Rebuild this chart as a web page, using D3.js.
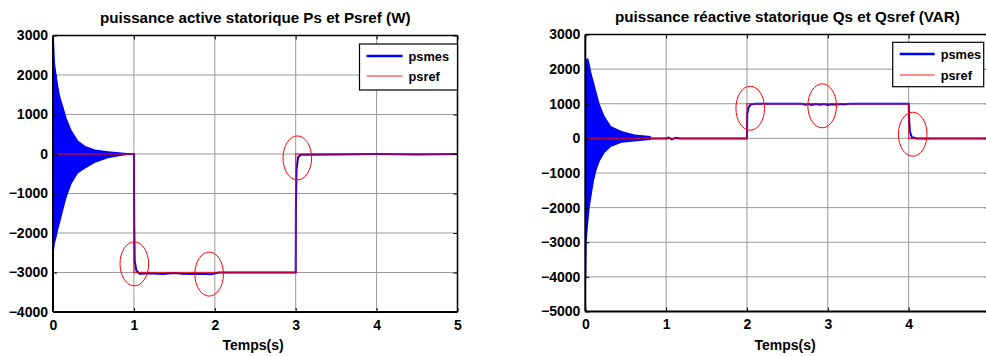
<!DOCTYPE html>
<html>
<head>
<meta charset="utf-8">
<script src="https://cdnjs.cloudflare.com/ajax/libs/d3/7.8.5/d3.min.js"></script>
<style>
    body { margin: 0; background: #fff; }
    svg { display: block; font-family: "Liberation Sans", Arial, sans-serif; font-weight: bold; }
</style>
</head>
<body>
<svg id="chart" width="986" height="356"></svg>
<script>
// ---- data ----
const timeTicks = [0, 1, 2, 3, 4, 5];
const psTicks = [3000, 2000, 1000, 0, -1000, -2000, -3000, -4000];
const qsTicks = [3000, 2000, 1000, 0, -1000, -2000, -3000, -4000, -5000];
const legendLabels = ["psmes", "psref"];

// active power: envelope of the start-up oscillation (filled band)
const psEnvT  = [0, 0.012, 0.025, 0.045, 0.066, 0.09, 0.127, 0.17, 0.23, 0.31, 0.4, 0.52, 0.68, 0.85, 0.95];
const psEnvUp = [3000, 2950, 2300, 2000, 1710, 1450, 1200, 900, 600, 340, 200, 115, 70, 35, 20];
const psEnvLo = [-2520, -2450, -2250, -2100, -1900, -1720, -1420, -1090, -750, -490, -365, -220, -110, -43, -20];
// measured (psmes) after start-up
const psMesT = [0, 1.0, 1.003, 1.01, 1.03, 1.07, 1.2, 1.35, 1.5, 1.6, 1.75, 1.85, 1.95, 2.05, 2.3, 3.0, 3.003, 3.01, 3.03, 3.06, 3.5, 4.0, 4.5, 5];
const psMesV = [0, 0, -1500, -2700, -2950, -3030, -3020, -3040, -3010, -3030, -3040, -3030, -3045, -3000, -3000, -3000, -1300, -400, -80, -20, -10, 0, -10, 0];
// reference (psref), step breakpoints
const psRefT = [0, 1, 3, 5];
const psRefV = [0, -3000, 0, 0];
// red circled zones
const psMarks = [[1.005, -2780], [1.93, -3040], [3.02, -100]];

// reactive power
const qsEnvT  = [0, 0.012, 0.018, 0.035, 0.054, 0.074, 0.107, 0.136, 0.18, 0.24, 0.32, 0.45, 0.61, 0.81];
const qsEnvUp = [2250, 2290, 2300, 2320, 2150, 1900, 1620, 1360, 980, 640, 350, 210, 115, 65];
const qsEnvLo = [-4020, -4000, -2960, -2480, -2000, -1710, -1230, -940, -650, -415, -240, -125, -90, -50];
const qsMesT = [0, 1.0, 1.03, 1.07, 1.12, 1.17, 2.0, 2.003, 2.02, 2.05, 2.1, 2.68, 2.72, 2.76, 2.8, 2.85, 2.9, 2.95, 3.0, 3.05, 3.1, 3.15, 3.2, 3.27, 4.0, 4.007, 4.015, 4.04, 4.1, 5];
const qsMesV = [0, 0, 25, -30, 20, 0, 0, 700, 900, 980, 1000, 1000, 975, 995, 965, 990, 970, 995, 965, 985, 970, 995, 980, 1000, 1000, 500, 200, 30, 0, 0];
const qsRefT = [0, 2, 4, 5];
const qsRefV = [0, 1000, 0, 0];
const qsMarks = [[2.04, 870], [2.93, 940], [4.05, 120]];

// ---- drawing ----
const svg = d3.select("#chart");
svg.append("rect").attr("width", 986).attr("height", 356).attr("fill", "#fff");

function drawPanel(p) {
    const g = svg.append("g");
    const x = d3.scaleLinear().domain([0, 5]).range([p.left, p.right]);
    const y = d3.scaleLinear().domain([p.yTicks[p.yTicks.length - 1], p.yTicks[0]]).range([p.bottom, p.top]);

    const clipId = "clip" + p.id;
    g.append("clipPath").attr("id", clipId).append("rect")
        .attr("x", p.left).attr("y", p.top)
        .attr("width", p.right - p.left).attr("height", p.bottom - p.top);

    // grid
    g.selectAll(".gx").data(timeTicks.slice(1, -1)).enter().append("line")
        .attr("x1", d => x(d)).attr("x2", d => x(d))
        .attr("y1", p.top).attr("y2", p.bottom)
        .attr("stroke", "#9a9a9a").attr("stroke-width", 1);
    g.selectAll(".gy").data(p.yTicks.slice(1, -1)).enter().append("line")
        .attr("x1", p.left).attr("x2", p.right)
        .attr("y1", d => y(d)).attr("y2", d => y(d))
        .attr("stroke", "#9a9a9a").attr("stroke-width", 1);

    const plot = g.append("g").attr("clip-path", "url(#" + clipId + ")");

    // start-up oscillation band
    const env = p.envT.map((t, i) => ({ t: t, hi: p.envUp[i], lo: p.envLo[i] }));
    plot.append("path").datum(env)
        .attr("fill", "#0000ff")
        .attr("d", d3.area().x(d => x(d.t)).y0(d => y(d.lo)).y1(d => y(d.hi)));

    // measured
    const mes = p.mesT.map((t, i) => [t, p.mesV[i]]);
    plot.append("path").datum(mes)
        .attr("fill", "none").attr("stroke", "#0000ff").attr("stroke-width", 2)
        .attr("d", d3.line().x(d => x(d[0])).y(d => y(d[1])));

    // reference
    const ref = p.refT.map((t, i) => [t, p.refV[i]]);
    plot.append("path").datum(ref)
        .attr("fill", "none").attr("stroke", "#ff0000").attr("stroke-width", 1.5).attr("stroke-opacity", 0.7)
        .attr("d", d3.line().curve(d3.curveStepAfter).x(d => x(d[0])).y(d => y(d[1])));

    // circled zones
    g.selectAll(".mark").data(p.marks).enter().append("ellipse")
        .attr("cx", d => x(d[0])).attr("cy", d => y(d[1]))
        .attr("rx", 14.3).attr("ry", 22)
        .attr("fill", "none").attr("stroke", "#ff0000").attr("stroke-width", 1);

    // axes with inward ticks
    const ax = g.append("g").attr("transform", `translate(0,${p.bottom})`)
        .call(d3.axisBottom(x).tickValues(timeTicks).tickSize(-4).tickPadding(8).tickFormat(d3.format("d")));
    g.append("g").attr("transform", `translate(${p.left},0)`)
        .call(d3.axisLeft(y).tickValues(p.yTicks).tickSize(-4).tickPadding(5).tickFormat(d3.format("d")));
    g.append("g").attr("transform", `translate(0,${p.top})`)
        .call(d3.axisTop(x).tickValues(timeTicks).tickSize(-4).tickFormat(""));
    g.append("g").attr("transform", `translate(${p.right},0)`)
        .call(d3.axisRight(y).tickValues(p.yTicks).tickSize(-4).tickFormat(""));
    g.selectAll(".domain").remove();
    g.selectAll(".tick line").attr("stroke", "#000");
    g.selectAll(".tick text").attr("fill", "#000")
        .style("font-size", "14px").style("font-family", "'Liberation Sans', Arial, sans-serif").style("font-weight", "bold");
    ax.selectAll(".tick text").filter(d => x(d) > 986).remove();

    // frame
    g.append("line").attr("x1", p.left).attr("x2", p.right).attr("y1", p.top).attr("y2", p.top)
        .attr("stroke", "#000").attr("stroke-width", 1.5);
    g.append("line").attr("x1", p.right).attr("x2", p.right).attr("y1", p.top).attr("y2", p.bottom)
        .attr("stroke", "#000").attr("stroke-width", 1.5);
    g.append("line").attr("x1", p.left).attr("x2", p.right).attr("y1", p.bottom).attr("y2", p.bottom)
        .attr("stroke", "#000").attr("stroke-width", 2);
    g.append("line").attr("x1", p.left).attr("x2", p.left).attr("y1", p.top).attr("y2", p.bottom)
        .attr("stroke", "#000").attr("stroke-width", 2);

    // titles
    g.append("text").attr("x", (p.left + p.right) / 2).attr("y", p.titleY)
        .attr("text-anchor", "middle").style("font-size", "15.2px").text(p.title);
    g.append("text").attr("x", p.xLabelX).attr("y", 349.5)
        .attr("text-anchor", "middle").style("font-size", "14px").text("Temps(s)");

    // legend
    const L = p.legend;
    const lg = g.append("g");
    lg.append("rect").attr("x", L.x).attr("y", L.y).attr("width", L.w).attr("height", L.h)
        .attr("fill", "#fff").attr("stroke", "#000").attr("stroke-width", 1.2);
    const colors = ["#0000ff", "#ff2020"], widths = [2.5, 1.2];
    legendLabels.forEach((lab, i) => {
        const ly = L.y + L.row0 + i * L.step;
        lg.append("line").attr("x1", L.x + 7).attr("x2", L.x + 7 + L.len)
            .attr("y1", ly).attr("y2", ly).attr("stroke", colors[i]).attr("stroke-width", widths[i]);
        lg.append("text").attr("x", L.x + 13 + L.len).attr("y", ly + 4.5)
            .style("font-size", "12.8px").text(lab);
    });
}

drawPanel({
    id: "ps", left: 53, right: 457.5, top: 35.5, bottom: 312,
    yTicks: psTicks, envT: psEnvT, envUp: psEnvUp, envLo: psEnvLo,
    mesT: psMesT, mesV: psMesV, refT: psRefT, refV: psRefV, marks: psMarks,
    title: "puissance active statorique Ps et Psref (W)", titleY: 23, xLabelX: 253,
    legend: { x: 359.5, y: 44, w: 98, h: 46, row0: 12, step: 20, len: 36 }
});
drawPanel({
    id: "qs", left: 585.3, right: 989.5, top: 34.5, bottom: 311.5,
    yTicks: qsTicks, envT: qsEnvT, envUp: qsEnvUp, envLo: qsEnvLo,
    mesT: qsMesT, mesV: qsMesV, refT: qsRefT, refV: qsRefV, marks: qsMarks,
    title: "puissance réactive statorique Qs et Qsref (VAR)", titleY: 22, xLabelX: 785,
    legend: { x: 892.7, y: 42.3, w: 91, h: 44.4, row0: 11.7, step: 21, len: 35 }
});
</script>
</body>
</html>
